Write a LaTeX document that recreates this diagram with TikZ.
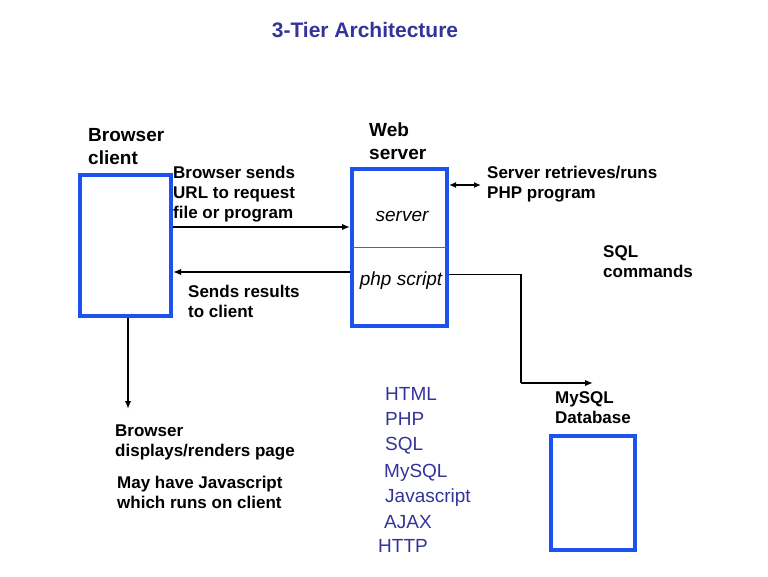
\documentclass[tikz,border=0pt]{standalone}
\usepackage{fontspec}
\setmainfont{Liberation Sans}
\usepackage{tikz}
\usetikzlibrary{arrows.meta,positioning,calc}

\definecolor{boxblue}{RGB}{30,82,240}
\definecolor{titleblue}{RGB}{51,51,153}

\tikzset{
    tierbox/.style={draw=boxblue, line width=4pt, inner sep=0pt},
    note/.style={anchor=north west, align=left, inner sep=0pt, font=\fontsize{17}{20}\selectfont\bfseries},
    head/.style={anchor=north west, align=left, inner sep=0pt, font=\fontsize{19}{23}\selectfont\bfseries},
    tech/.style={anchor=base west, inner sep=0pt, text=titleblue, font=\fontsize{19}{23}\selectfont},
    wire/.style={line width=1.8pt},
    flow/.style={wire, -{Latex[length=8pt,width=6.5pt]}}
}

\begin{document}
\begin{tikzpicture}[x=1pt, y=-1pt]
    \useasboundingbox (0,0) rectangle (768,576);

    % Title
    \node[anchor=base, inner sep=0pt, text=titleblue, font=\fontsize{21}{25}\selectfont\bfseries] (title) at (365,37) {3-Tier Architecture};

    % Three tiers
    \node[tierbox, minimum width=91pt, minimum height=141pt] (client) at (125.5,245.5) {};
    \node[tierbox, minimum width=95pt, minimum height=157pt] (srv) at (399.5,247.5) {};
    \node[tierbox, minimum width=84pt, minimum height=114pt] (db) at (593,493) {};

    \node[head] (clientlbl) at (88,128) {Browser\\client};
    \node[head] (srvlbl) at (369,123) {Web\\server};
    \node[note] (dblbl) at (555,391) {MySQL\\Database};

    % Inside the web server
    \draw[gray!80!black, line width=0.8pt, shorten <=2pt, shorten >=2pt] (srv.west) -- (srv.east);
    \node[anchor=base, inner sep=0pt, font=\fontsize{19}{23}\selectfont\itshape] (srvpart) at (402,221) {server};
    \node[anchor=base, inner sep=0pt, font=\fontsize{19}{23}\selectfont\itshape] (phppart) at (401,285) {php script};

    % Request and response
    \draw[flow] ([yshift=18.5pt]client.east) -- ([yshift=18.5pt]client.east -| srv.west);
    \draw[flow] ([yshift=-24.5pt]srv.west) -- ([yshift=-24.5pt]srv.west -| client.east);
    \node[note] (reqlbl) at (173,166) {Browser sends\\URL to request\\file or program};
    \node[note] (reslbl) at (188,285) {Sends results\\to client};

    % Server side
    \coordinate (fetch) at (481,185);
    \draw[wire, {Latex[length=7pt,width=6pt]}-{Latex[length=7pt,width=6pt]}] ([yshift=62.5pt]srv.east) -- (fetch);
    \node[note] (fetchlbl) at (487,166) {Server retrieves/runs\\PHP program};

    \coordinate (bend) at (521,383);
    \draw[wire] ([yshift=-27pt]srv.east) -| (bend);
    \draw[flow] (bend) -- (bend -| db.north);
    \node[note] (sqllbl) at (603,245) {SQL\\commands};

    % Client side
    \coordinate (render) at (128,409);
    \draw[flow] ([xshift=2.5pt]client.south) -- (render);
    \node[note] (renderlbl) at (115,425) {Browser\\displays/renders page};
    \node[note] (jslbl) at (117,476) {May have Javascript\\which runs on client};

    % Technologies
    \node[tech] (html) at (385,400) {HTML};
    \node[tech] (php) at (385,425) {PHP};
    \node[tech] (sql) at (385,450) {SQL};
    \node[tech] (mysql) at (384,477) {MySQL};
    \node[tech] (js) at (385,502) {Javascript};
    \node[tech] (ajax) at (384,528) {AJAX};
    \node[tech] (http) at (378,552) {HTTP};
\end{tikzpicture}
\end{document}
